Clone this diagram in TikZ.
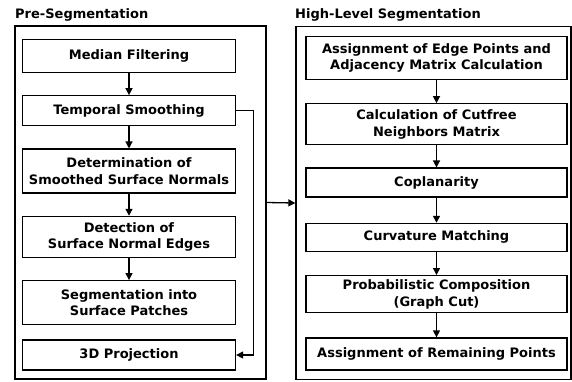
\documentclass[tikz,border=0pt]{standalone}
\usepackage{fontspec}
\setmainfont{DejaVu Sans}
\usetikzlibrary{arrows.meta,positioning}

\begin{document}
\begin{tikzpicture}[x=1pt, y=1pt,
  stage/.style={draw, line width=1.3pt, minimum width=#1, minimum height=32pt, inner xsep=4pt, inner ysep=3pt, align=center, font=\bfseries\fontsize{13}{16.5}\selectfont},
  frame/.style={draw, line width=1.3pt, minimum width=#1, minimum height=353pt, inner sep=0pt},
  title/.style={anchor=base west, inner sep=0pt, font=\bfseries\fontsize{13}{16.5}\selectfont},
  arr/.style={-{Triangle[length=7pt,width=7pt]}, line width=1.3pt}
]
\useasboundingbox (0,0) rectangle (572,-381);

% the two stages
\node[frame=251pt] (pre) at (140.5,-202.5) {};
\node[frame=275pt] (hls) at (433.5,-203) {};
\node[title] at (15,-18) {Pre-Segmentation};
\node[title] at (295,-18) {High-Level Segmentation};

% pre-segmentation steps
\node[stage=213pt, minimum height=33pt] (median) at (129,-56) {Median Filtering};
\node[stage=213pt, minimum height=30pt, below=22pt of median] (temporal) {Temporal Smoothing};
\node[stage=213pt, minimum height=44pt, below=22pt of temporal] (normals) {Determination of\\Smoothed Surface Normals};
\node[stage=213pt, minimum height=41pt, below=22pt of normals] (edges) {Detection of\\Surface Normal Edges};
\node[stage=213pt, minimum height=44pt, below=22pt of edges] (patches) {Segmentation into\\Surface Patches};
\node[stage=213pt, minimum height=30pt, below=14pt of patches] (proj) {3D Projection};

% high-level segmentation steps
\node[stage=261pt, minimum height=43pt] (assign) at (436.5,-58) {Assignment of Edge Points and\\Adjacency Matrix Calculation};
\node[stage=261pt, minimum height=41pt, below=23pt of assign] (cutfree) {Calculation of Cutfree\\Neighbors Matrix};
\node[stage=261pt, minimum height=29pt, below=22pt of cutfree] (coplan) {Coplanarity};
\node[stage=261pt, minimum height=28pt, below=25pt of coplan] (curv) {Curvature Matching};
\node[stage=261pt, minimum height=37pt, below=23pt of curv] (prob) {Probabilistic Composition\\(Graph Cut)};
\node[stage=261pt, minimum height=32pt, below=24pt of prob] (remain) {Assignment of Remaining Points};

\draw[arr] (median) -- (temporal);
\draw[arr] (temporal) -- (normals);
\draw[arr] (normals) -- (edges);
\draw[arr] (edges) -- (patches);
\draw[arr] (temporal.east) -- ++(17,0) |- (proj.east);

\draw[arr] (assign) -- (cutfree);
\draw[arr] (cutfree) -- (coplan);
\draw[arr] (coplan) -- (curv);
\draw[arr] (curv) -- (prob);
\draw[arr] (prob) -- (remain);

\draw[arr] (pre.east) -- (hls.west);
\end{tikzpicture}
\end{document}
